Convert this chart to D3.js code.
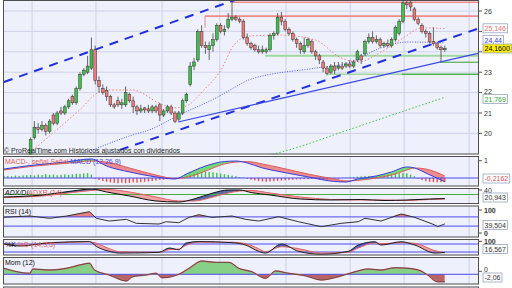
<!DOCTYPE html>
<html>
<head>
<meta charset="utf-8">
<script src="https://cdn.jsdelivr.net/npm/d3@7"></script>
<style>
  body { margin: 0; background: #fff; }
  svg { display: block; font-family: "Liberation Sans", Arial, sans-serif; }
</style>
</head>
<body>
<div id="chart"></div>
<script>
// ---- price data (one candle per bar) ----
var open = [17.4,17.6,17.9,18.1,17.9,18.3,18.5,
  18.9,19.8,20.3,20.2,20.4,20.1,20.9,20.5,21.1,21.0,21.3,21.8,21.5,22.2,22.9,23.0,23.2,24.1,22.6,22.2,22.1,21.8,21.4,21.6,21.4,21.4,21.9,21.6,21.3,21.1,21.25,21.2,21.1,21.3,21.4,20.9,21.1,21.3,21.0,20.7,21.0,21.6,22.4,23.3,23.6,25.0,24.3,24.1,24.3,24.6,25.3,25.0,25.2,25.6,25.7,25.6,25.5,24.7,24.4,24.3,24.1,24.0,24.0,24.1,24.8,24.9,25.7,25.5,25.1,24.9,24.6,24.4,24.0,24.3,24.5,24.0,23.8,23.5,23.2,23.0,23.3,23.2,23.3,23.3,23.4,23.3,23.6,23.8,23.9,24.5,24.7,24.5,24.6,24.3,24.4,24.3,24.6,24.9,25.5,26.4,26.4,26.1,25.6,25.3,25.0,24.9,24.5,24.4,24.2,24.1];
var high = [17.8,18.0,18.3,18.2,18.4,18.7,18.95,
  19.8,20.6,20.5,20.6,20.5,20.7,21.0,21.1,21.3,21.4,21.7,21.9,22.3,23.0,23.2,23.8,24.7,24.3,22.8,22.4,22.3,21.9,21.5,21.8,21.7,22.3,22.0,21.8,21.4,21.4,21.3,21.4,21.4,21.4,21.5,21.2,21.4,21.4,21.1,21.1,21.7,22.0,23.5,23.7,25.1,25.3,24.5,24.5,24.9,25.4,25.4,25.3,25.9,26.43,25.8,25.7,25.6,24.9,24.5,24.4,24.3,24.3,24.2,24.9,25.0,25.9,25.95,25.6,25.2,25.0,24.7,24.5,24.7,24.7,24.6,24.1,23.9,23.6,23.3,23.4,23.5,23.5,23.5,23.5,23.6,23.6,24.1,23.9,24.6,24.9,25.0,24.8,24.7,24.5,24.6,24.7,25.3,25.6,26.5,26.6,26.6,26.2,25.7,25.4,25.1,25.0,25.2,24.5,24.3,24.3];
var low = [17.2,17.4,17.8,17.7,17.8,18.2,18.4,
  18.8,19.7,20.0,20.1,19.9,20.0,20.4,20.4,20.9,20.9,21.2,21.4,21.4,22.1,22.8,22.9,23.1,22.4,22.0,21.9,21.6,21.3,21.2,21.3,21.2,21.3,21.5,21.0,20.9,21.0,21.0,21.0,21.0,21.0,20.6,20.8,21.0,20.9,20.5,20.6,20.9,21.5,22.3,23.1,23.5,24.2,23.9,23.6,24.0,24.5,24.9,24.8,25.1,25.5,25.5,25.4,24.6,24.3,24.1,24.0,23.9,23.9,23.9,24.0,24.6,24.8,25.3,25.0,24.8,24.5,24.2,23.9,23.9,24.2,23.9,23.6,23.4,23.0,22.85,22.9,22.9,23.1,23.1,23.2,23.2,23.2,23.5,23.4,23.8,24.4,24.4,24.4,24.2,24.2,24.2,24.2,24.5,24.8,25.4,26.1,26.0,25.5,25.3,24.9,24.7,24.4,24.3,24.1,23.5,24.0];
var close = [17.6,17.9,18.1,17.9,18.3,18.5,18.9,
  19.7,20.3,20.2,20.4,20.1,20.6,20.5,21.0,21.0,21.3,21.6,21.5,22.2,22.9,23.1,23.3,24.1,22.6,22.3,22.0,21.8,21.4,21.3,21.4,21.5,22.0,21.6,21.3,21.1,21.2,21.15,21.1,21.3,21.1,20.9,21.1,21.3,21.0,20.6,21.0,21.6,21.9,23.3,23.5,25.0,24.3,24.2,24.3,24.6,25.3,25.0,25.1,25.6,25.7,25.6,25.5,24.7,24.4,24.2,24.1,24.0,24.1,24.1,24.8,24.9,25.7,25.5,25.1,24.9,24.6,24.4,24.1,24.3,24.6,24.0,23.8,23.6,23.2,22.95,23.3,23.1,23.3,23.2,23.4,23.3,23.5,24.0,23.6,24.5,24.7,24.5,24.6,24.3,24.4,24.3,24.6,25.2,25.5,26.4,26.3,26.2,25.6,25.4,25.0,24.9,24.5,24.4,24.2,24.1,24.16];

// moving averages, as [bar index] / [value] pairs
var maRedIdx  = [7.6, 19.9, 25.1, 27.7, 33.8, 40.8, 44.8, 47.9, 52.6, 57.1, 60.5, 64.4, 73, 81.9, 88.7, 93.2, 99.2, 105.5, 109.7, 116];
var maRed     = [19.19, 21.15, 22.03, 22.13, 22.13, 21.49, 21.25, 21.34, 22.13, 23.11, 24.33, 24.77, 24.82, 24.58, 23.7, 23.5, 23.99, 24.73, 25.17, 25.146];
var maBlueIdx = [18, 23.3, 33.8, 38.2, 46.1, 55.8, 61.8, 64.4, 81.9, 90.6, 99.2, 106.3, 116];
var maBlue    = [18.8, 19.19, 19.92, 20.17, 20.9, 21.74, 22.37, 22.62, 23.2, 23.45, 24.19, 24.48, 24.44];
var maGreenIdx = [68, 74.9, 90.6, 103.7, 116];
var maGreen    = [18.85, 19.19, 20.17, 21.0, 21.769];

// drawn objects: trend lines [i1, p1, i2, p2], levels [from index, price]
var channelLines = [[0, 22.52, 60.8, 26.54], [30.5, 19.19, 125.3, 25.17]];
var supportLine = [45.8, 20.56, 125, 23.94];
var redLevels = [[52.9, 25.75], [60, 26.43]];
var greenLevels = [[68.7, 23.81, "#9fd89f", 2], [85, 22.9, "#9fd89f", 1.5], [104.7, 22.9, "#2fa42f", 1], [114.7, 23.49, "#2fa42f", 1]];

// indicators
var macdIdx    = [0, 8, 16, 23, 27, 33, 40, 45, 48, 53, 58, 61, 64, 68, 73, 80, 87, 90, 93, 98, 102, 106, 108, 111, 116];
var macdLine   = [0.52, 0.75, 0.92, 1.10, 0.69, 0.35, 0.06, -0.06, 0.23, 0.69, 0.95, 0.98, 0.87, 0.58, 0.35, 0.06, -0.20, -0.23, -0.06, 0.12, 0.35, 0.64, 0.58, 0.29, -0.2162];
var macdSignal = [0.46, 0.69, 0.84, 0.98, 0.92, 0.58, 0.17, -0.03, 0.03, 0.40, 0.81, 0.92, 0.95, 0.81, 0.58, 0.23, -0.06, -0.17, -0.14, 0.0, 0.17, 0.46, 0.58, 0.52, 0.12];
var macdHist = [0.10,0.12,0.10,0.14,0.12,0.15,0.16,
  0.18,0.15,0.20,0.17,0.22,0.18,0.20,0.16,0.19,0.21,
  0.18,0.22,0.25,0.24,0.26,0.28,0.20,
  -0.05,-0.12,-0.18,-0.22,-0.25,-0.28,-0.30,-0.27,-0.30,-0.28,-0.25,-0.27,-0.24,-0.22,-0.20,-0.18,-0.15,-0.12,-0.10,-0.07,
  -0.04,-0.02,0.02,0.05,
  0.12,0.18,0.25,0.30,0.36,0.38,0.35,0.33,0.30,0.26,0.22,0.18,0.14,0.10,0.06,0.02,
  -0.05,-0.10,-0.14,-0.18,-0.20,-0.22,-0.20,-0.18,-0.17,-0.15,-0.13,-0.12,-0.10,-0.08,
  -0.08,-0.06,-0.07,-0.05,-0.06,-0.08,-0.10,-0.09,-0.07,-0.05,-0.04,-0.02,0.01,
  0.03,0.05,0.08,0.10,0.12,0.11,0.10,0.12,0.14,0.16,0.18,0.20,0.24,0.28,0.30,0.27,0.20,0.10,
  -0.05,-0.12,-0.18,-0.22,-0.24,-0.25,-0.24,-0.23];

var adxIdx  = [0, 10, 18, 23, 27, 33, 40, 46, 50, 55, 59, 62, 65, 70, 78, 86, 94, 100, 106, 112, 116];
var adxLine = [24.4, 28.9, 37.8, 42.2, 35.6, 26.7, 15.6, 13.3, 20, 33.3, 40, 40, 34.4, 28.9, 20, 17.8, 18.9, 16.7, 17.8, 20, 20.943];
var adxrLine = [23.3, 26.7, 34.4, 38.9, 41.1, 35.6, 24.4, 15.6, 15.6, 24.4, 33.3, 37.8, 38.9, 33.3, 24.4, 18.9, 17.8, 17.8, 16.7, 18.9, 20];

var rsiIdx  = [0, 6.8, 12, 16.5, 22.5, 24.3, 27.7, 32.2, 34.8, 40.8, 42.7, 46, 48.7, 51.3, 54.7, 60, 63.6, 67, 72.3, 77.5, 83.5, 88.7, 93.2, 95, 99.2, 104.5, 108.1, 113.4, 114.1, 116];
var rsiLine = [68.6, 73.9, 63.9, 73.9, 92.6, 63.9, 52, 59.4, 42, 39, 49, 44.8, 68, 79.6, 68, 73.9, 59.4, 52, 70.9, 49, 27.4, 42, 49, 63.9, 52, 82.6, 68, 34.8, 27.4, 39.504];

var stochIdx = [0, 4.2, 12, 22.5, 24.3, 27.7, 30.4, 40.8, 43.5, 46, 47.9, 51.3, 60, 63.6, 67, 68.8, 73, 77.5, 83.5, 90.6, 93.2, 97.6, 99.2, 104.5, 108.1, 113.4, 116];
var stochK = [80, 65, 90, 98, 62, 25, 12, 17, 50, 37, 87, 98, 90, 72, 25, 12, 80, 25, 3, 25, 72, 97, 72, 97, 72, 12, 16.567];
var stochD = [78, 70, 85, 96, 85, 45, 22, 18, 38, 42, 70, 94, 93, 82, 45, 22, 60, 45, 12, 18, 50, 88, 82, 90, 85, 30, 14];

var momIdx  = [0, 6.8, 7.6, 12, 16.5, 19.9, 22.5, 23.8, 27.7, 32.2, 33.8, 37.4, 40, 41.6, 46, 48.7, 52.1, 55.8, 59.2, 61.8, 65.2, 68.8, 71.5, 74.9, 79.3, 83.5, 88, 92.4, 95.8, 99.2, 102.9, 106.3, 109.7, 111.5, 114.1, 116];
var momLine = [1.67, 0.28, 1.47, 1.19, 1.67, 2.58, 3.06, 1.19, -0.19, -1.86, -0.67, -0.19, 0.28, -0.94, 0, 1.67, 3.69, 3.33, 3.33, 1.67, 0.72, -1.11, 0.92, 0.28, -0.39, -1.58, -0.67, 0.72, 1.47, 1.19, 1.83, 1.67, 0.92, -0.19, -2.06, -2.06];

var gridIdx = [7.4, 24.2, 41.6, 56.8, 74.2, 91.1, 105.3, 122.4];
var priceTicks = [20, 21, 22, 23, 24, 25, 26];
var priceLabels = [20, 21, 22, 23, 26];   // 24 and 25 sit under the value boxes

// ---- layout ----
var W = 512, H = 288, L = 3, R = 479;
var svg = d3.select("#chart").append("svg").attr("width", W).attr("height", H);
var defs = svg.append("defs");
var x = d3.scaleLinear().domain([0, 125]).range([4, 479]);

var panels = {
  main:  {top: 0,     bottom: 154.5},
  macd:  {top: 156,   bottom: 186.5},
  adx:   {top: 188,   bottom: 204},
  rsi:   {top: 205.5, bottom: 237.5},
  stoch: {top: 239,   bottom: 255.5},
  mom:   {top: 257,   bottom: 284.5},
  vol:   {top: 286.5, bottom: 300}
};

Object.keys(panels).forEach(function(k) {
  var p = panels[k];
  svg.append("rect").attr("x", L).attr("y", p.top).attr("width", R - L).attr("height", p.bottom - p.top)
    .attr("fill", "#eef0fb");
  defs.append("clipPath").attr("id", "clip-" + k).append("rect")
    .attr("x", L).attr("y", p.top).attr("width", R - L).attr("height", p.bottom - p.top);
  p.g = svg.append("g").attr("clip-path", "url(#clip-" + k + ")");
  p.g.selectAll("line.vgrid").data(gridIdx).join("line")
    .attr("x1", d => x(d)).attr("x2", d => x(d))
    .attr("y1", p.top).attr("y2", p.bottom)
    .attr("stroke", "#cdd2e8").attr("stroke-width", 1);
});

var curve = d3.curveMonotoneX;

function band(g, pts, ys, top, bottom, upColor, downColor, id) {
  var between = d3.area().curve(curve).x(d => x(d[0])).y0(d => ys(d[2])).y1(d => ys(d[1]));
  var aboveB = d3.area().curve(curve).x(d => x(d[0])).y0(d => ys(d[2])).y1(top);
  var belowB = d3.area().curve(curve).x(d => x(d[0])).y0(d => ys(d[2])).y1(bottom);
  if (upColor) {
    defs.append("clipPath").attr("id", id + "u").append("path").attr("d", aboveB(pts));
    g.append("path").attr("d", between(pts)).attr("fill", upColor).attr("clip-path", "url(#" + id + "u)");
  }
  if (downColor) {
    defs.append("clipPath").attr("id", id + "d").append("path").attr("d", belowB(pts));
    g.append("path").attr("d", between(pts)).attr("fill", downColor).attr("clip-path", "url(#" + id + "d)");
  }
}

function line(g, idx, vals, ys, color, width, dash, crv) {
  var gen = d3.line().curve(crv || curve).x(d => x(d[0])).y(d => ys(d[1]));
  g.append("path").attr("d", gen(d3.zip(idx, vals)))
    .attr("fill", "none").attr("stroke", color).attr("stroke-width", width)
    .attr("stroke-dasharray", dash || null);
}

function hline(g, y, color, width) {
  g.append("line").attr("x1", L).attr("x2", R).attr("y1", y).attr("y2", y)
    .attr("stroke", color).attr("stroke-width", width);
}

// ---- main price panel ----
var M = panels.main;
var yP = d3.scaleLinear().domain([19, 26]).range([153.8, 11]);
M.g.selectAll("line.hgrid").data(priceTicks).join("line")
  .attr("x1", L).attr("x2", R).attr("y1", d => yP(d)).attr("y2", d => yP(d))
  .attr("stroke", "#cdd2e8");

// levels
redLevels.forEach(function(r) {
  M.g.append("line").attr("x1", x(r[0])).attr("x2", R).attr("y1", yP(r[1])).attr("y2", yP(r[1]))
    .attr("stroke", "#f08a8a").attr("stroke-width", 1.6);
});
M.g.append("line").attr("x1", x(redLevels[0][0])).attr("x2", x(redLevels[0][0]))
  .attr("y1", yP(redLevels[0][1])).attr("y2", yP(25.17)).attr("stroke", "#f08a8a").attr("stroke-width", 1);
greenLevels.forEach(function(r) {
  M.g.append("line").attr("x1", x(r[0])).attr("x2", R).attr("y1", yP(r[1])).attr("y2", yP(r[1]))
    .attr("stroke", r[2]).attr("stroke-width", r[3]);
});

// moving averages
line(M.g, maGreenIdx, maGreen, yP, "#3cc43c", 1, "1.5,2");
line(M.g, maBlueIdx, maBlue, yP, "#4a5cf0", 1, "1,1.5");
line(M.g, maRedIdx, maRed, yP, "#f08080", 1, "1.5,2");

// trend lines
channelLines.forEach(function(c) {
  M.g.append("line").attr("x1", x(c[0])).attr("y1", yP(c[1])).attr("x2", x(c[2])).attr("y2", yP(c[3]))
    .attr("stroke", "#1f2fe0").attr("stroke-width", 2).attr("stroke-dasharray", "9,7");
});
M.g.append("line").attr("x1", x(supportLine[0])).attr("y1", yP(supportLine[1]))
  .attr("x2", x(supportLine[2])).attr("y2", yP(supportLine[3]))
  .attr("stroke", "#3a48e8").attr("stroke-width", 1.2);

// candles
var candles = d3.range(close.length).map(i => ({i: i, o: open[i], h: high[i], l: low[i], c: close[i]}));
M.g.selectAll("line.wick").data(candles).join("line")
  .attr("x1", d => x(d.i)).attr("x2", d => x(d.i))
  .attr("y1", d => yP(d.h)).attr("y2", d => yP(d.l))
  .attr("stroke", "#555").attr("stroke-width", 0.9);
M.g.selectAll("rect.body").data(candles).join("rect")
  .attr("x", d => x(d.i) - 1.4).attr("width", 2.8)
  .attr("y", d => yP(Math.max(d.o, d.c)))
  .attr("height", d => Math.max(0.8, Math.abs(yP(d.o) - yP(d.c))))
  .attr("fill", d => d.c >= d.o ? "#3fc24a" : "#f07a78")
  .attr("stroke", "#333").attr("stroke-width", 0.5);

M.g.append("text").attr("x", 4).attr("y", 152.5).attr("font-size", 7).attr("fill", "#222")
  .text("© ProRealTime.com Históricos ajustados con dividendos");

// ---- MACD ----
var P = panels.macd;
var yM = d3.scaleLinear().domain([0, 1]).range([178, 160.7]);
band(P.g, d3.zip(macdIdx, macdLine, macdSignal), yM, P.top, P.bottom, "#74d874", "#ec8c8c", "macdb");
P.g.selectAll("rect.hist").data(macdHist).join("rect")
  .attr("x", (d, i) => x(i) - 0.7).attr("width", 1.4)
  .attr("y", d => yM(Math.max(0, d))).attr("height", d => Math.abs(yM(d) - yM(0)))
  .attr("fill", d => d >= 0 ? "#3fc24a" : "#e85050");
hline(P.g, yM(0), "#4a4af0", 1);
line(P.g, macdIdx, macdSignal, yM, "#e05a5a", 1);
line(P.g, macdIdx, macdLine, yM, "#3a3ae0", 1);
var t = P.g.append("text").attr("x", 5).attr("y", 163.5).attr("font-size", 7);
t.append("tspan").attr("fill", "#e06060").text("MACD-, señal Señal ");
t.append("tspan").attr("fill", "#4a4ae0").text("MACD (12,26,9)");

// ---- ADX ----
P = panels.adx;
var yA = d3.scaleLinear().domain([0, 40]).range([208, 190]);
band(P.g, d3.zip(adxIdx, adxLine, adxrLine), yA, P.top, P.bottom, "#5a6aa8", "#f2a4a4", "adxb");
hline(P.g, yA(30), "#44b044", 1);
line(P.g, adxIdx, adxrLine, yA, "#e06060", 1);
line(P.g, adxIdx, adxLine, yA, "#111", 1);
t = P.g.append("text").attr("x", 5).attr("y", 194.5).attr("font-size", 7);
t.append("tspan").attr("fill", "#111").attr("font-style", "italic").text("ADX/DI");
t.append("tspan").attr("fill", "#e06060").text("ADXR (14)");

// ---- RSI ----
P = panels.rsi;
var yR = d3.scaleLinear().domain([0, 100]).range([233, 210]);
band(P.g, d3.zip(rsiIdx, rsiLine, rsiIdx.map(() => 70)), yR, P.top, P.bottom, "#e88080", null, "rsib");
hline(P.g, yR(70), "#4a4af0", 1);
hline(P.g, yR(30), "#4a4af0", 1);
line(P.g, rsiIdx, rsiLine, yR, "#333", 1, null, d3.curveLinear);
P.g.append("text").attr("x", 5).attr("y", 213.5).attr("font-size", 7).attr("fill", "#111").text("RSI (14)");

// ---- Stochastic ----
P = panels.stoch;
var yS = d3.scaleLinear().domain([20, 80]).range([252, 244]);
band(P.g, d3.zip(stochIdx, stochK, stochD), yS, P.top, P.bottom, "#5060c0", "#f2a0a0", "stob");
hline(P.g, yS(80), "#4a4af0", 1);
hline(P.g, yS(20), "#4a4af0", 1);
line(P.g, stochIdx, stochD, yS, "#e06060", 1);
line(P.g, stochIdx, stochK, yS, "#222", 1);
t = P.g.append("text").attr("x", 5).attr("y", 246.5).attr("font-size", 7);
t.append("tspan").attr("fill", "#111").text("%K ");
t.append("tspan").attr("fill", "#e06060").text("%D (14,3,5)");

// ---- Momentum ----
P = panels.mom;
var yMo = d3.scaleLinear().domain([0, -2.06]).range([274.3, 281.7]);
band(P.g, d3.zip(momIdx, momLine, momIdx.map(() => 0)), yMo, P.top, P.bottom, "#86cf86", "#b86464", "momb");
hline(P.g, yMo(0), "#4a4af0", 1);
line(P.g, momIdx, momLine, yMo, "#e07070", 1.4);
line(P.g, momIdx, momLine, yMo, "#333", 0.7);
P.g.append("text").attr("x", 5).attr("y", 265).attr("font-size", 7).attr("fill", "#111").text("Mom (12)");

// ---- frames ----
Object.keys(panels).forEach(function(k) {
  var p = panels[k];
  svg.append("rect").attr("x", L + 0.5).attr("y", p.top + 0.5)
    .attr("width", R - L - 1).attr("height", p.bottom - p.top - 1)
    .attr("fill", "none").attr("stroke", "#505050").attr("stroke-width", 1);
});

// ---- right axis ----
var ax = svg.append("g").attr("font-size", 7).attr("fill", "#333");
function tick(y, label, bold, dy) {
  ax.append("line").attr("x1", R).attr("x2", R + 3).attr("y1", y).attr("y2", y).attr("stroke", "#555");
  if (label) ax.append("text").attr("x", 484).attr("y", y + (dy == null ? 2.5 : dy))
    .attr("font-weight", bold ? "bold" : null).text(label);
}
priceTicks.forEach(p => tick(yP(p), priceLabels.indexOf(p) >= 0 ? String(p) : null, false, p === 22 ? 1.8 : null));
tick(yM(1), "1");
tick(yA(40), "40");
tick(yR(100), "100", true);
tick(yR(0), "0", true);
tick(yS(100), "100", true);
tick(yMo(0) - 3, "0", false, 0.5);

function valueBox(y, label, color, bg) {
  var g = ax.append("g");
  var r = g.append("rect").attr("x", 483).attr("y", y - 4.5).attr("height", 9)
    .attr("fill", bg || "#fff").attr("stroke", "#97a3c2").attr("stroke-width", 0.8);
  var tx = g.append("text").attr("x", 484.5).attr("y", y + 2.5).attr("fill", color).text(label);
  r.attr("width", tx.node().getComputedTextLength() + 3);
}
valueBox(40, "24,44", "#3a3ae0");
valueBox(28.3, "25,146", "#e07070");
valueBox(48.5, "24,1600", "#000", "#ffee00");
valueBox(99, "21,769", "#2fa42f");
valueBox(178.5, "-0,2162", "#e05050");
valueBox(197.5, "20,943", "#333");
valueBox(225, "39,504", "#333");
valueBox(249, "16,567", "#333");
valueBox(277.5, "-2,06", "#333");
</script>
</body>
</html>
